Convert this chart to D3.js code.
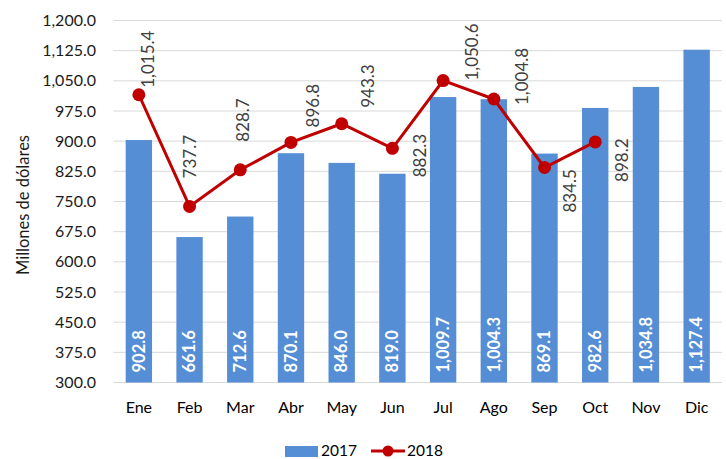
<!DOCTYPE html>
<html>
<head>
<meta charset="utf-8">
<script src="https://cdn.jsdelivr.net/npm/d3@7"></script>
<style>
  body { margin: 0; background: #fff; }
  svg { display: block; font-family: Lato, "Open Sans", sans-serif; }
</style>
</head>
<body>
<div id="chart"></div>
<script>
const months = ["Ene", "Feb", "Mar", "Abr", "May", "Jun", "Jul", "Ago", "Sep", "Oct", "Nov", "Dic"];
const values2017 = [902.8, 661.6, 712.6, 870.1, 846.0, 819.0, 1009.7, 1004.3, 869.1, 982.6, 1034.8, 1127.4];
const values2018 = [1015.4, 737.7, 828.7, 896.8, 943.3, 882.3, 1050.6, 1004.8, 834.5, 898.2];
const yTicks = [300, 375, 450, 525, 600, 675, 750, 825, 900, 975, 1050, 1125, 1200];

// label offsets for the 2018 values (dx, dy from the point), placed by hand like in Excel
const lineLabelOffsets = [[9, -7], [0, -28], [3, -28], [22, -15], [26, -16], [28, 29], [29, 0], [28, 6], [26, 45], [27, 40]];

const width = 726;
const height = 459;
const fmt = d3.format(",.1f");

const svg = d3.select("#chart")
    .append("svg")
    .attr("width", width)
    .attr("height", height);

const x = d3.scaleBand()
    .domain(months)
    .range([113.5, 722])
    .paddingInner(0.48)
    .paddingOuter(0.24);

const y = d3.scaleLinear()
    .domain([300, 1200])
    .range([382.5, 20.5]);

// gridlines + y labels
svg.append("g")
    .selectAll("line")
    .data(yTicks)
    .enter()
    .append("line")
    .attr("x1", 113.5)
    .attr("x2", 722)
    .attr("y1", d => y(d))
    .attr("y2", d => y(d))
    .attr("stroke", "#d9d9d9")
    .attr("stroke-width", 1);

svg.append("g")
    .selectAll("text")
    .data(yTicks)
    .enter()
    .append("text")
    .attr("x", 96)
    .attr("y", d => y(d))
    .attr("dy", "0.35em")
    .attr("text-anchor", "end")
    .attr("font-size", 16)
    .attr("fill", "#1a1a1a")
    .text(d => fmt(d));

svg.append("text")
    .attr("transform", `translate(23,205) rotate(-90)`)
    .attr("text-anchor", "middle")
    .attr("dy", "0.35em")
    .attr("font-size", 16.5)
    .attr("fill", "#1a1a1a")
    .text("Millones de dólares");

// bars
svg.append("g")
    .selectAll("rect")
    .data(values2017)
    .enter()
    .append("rect")
    .attr("x", (d, i) => x(months[i]))
    .attr("y", d => y(d))
    .attr("width", x.bandwidth())
    .attr("height", d => y(300) - y(d))
    .attr("fill", "#558ed5");

svg.append("g")
    .selectAll("text")
    .data(values2017)
    .enter()
    .append("text")
    .attr("transform", (d, i) => `translate(${x(months[i]) + x.bandwidth() / 2},${y(300) - 10}) rotate(-90)`)
    .attr("dy", "0.35em")
    .attr("font-size", 16.5)
    .attr("font-weight", "bold")
    .attr("fill", "#fff")
    .text(d => fmt(d));

// x labels
svg.append("g")
    .selectAll("text")
    .data(months)
    .enter()
    .append("text")
    .attr("x", d => x(d) + x.bandwidth() / 2)
    .attr("y", 407)
    .attr("dy", "0.35em")
    .attr("text-anchor", "middle")
    .attr("font-size", 16)
    .attr("fill", "#000")
    .text(d => d);

// 2018 line
const cx = (d, i) => x(months[i]) + x.bandwidth() / 2;

const line = d3.line()
    .x(cx)
    .y(d => y(d));

svg.append("path")
    .datum(values2018)
    .attr("d", line)
    .attr("fill", "none")
    .attr("stroke", "#c00000")
    .attr("stroke-width", 3);

svg.append("g")
    .selectAll("circle")
    .data(values2018)
    .enter()
    .append("circle")
    .attr("cx", cx)
    .attr("cy", d => y(d))
    .attr("r", 6.5)
    .attr("fill", "#c00000");

svg.append("g")
    .selectAll("text")
    .data(values2018)
    .enter()
    .append("text")
    .attr("transform", (d, i) => `translate(${cx(d, i) + lineLabelOffsets[i][0]},${y(d) + lineLabelOffsets[i][1]}) rotate(-90)`)
    .attr("dy", "0.35em")
    .attr("font-size", 17)
    .attr("fill", "#404040")
    .text(d => fmt(d));

// legend
const legend = svg.append("g");

legend.append("rect")
    .attr("x", 285)
    .attr("y", 446)
    .attr("width", 33)
    .attr("height", 11)
    .attr("fill", "#558ed5");

legend.append("text")
    .attr("x", 321)
    .attr("y", 450.5)
    .attr("dy", "0.35em")
    .attr("font-size", 15.5)
    .attr("fill", "#000")
    .text("2017");

legend.append("line")
    .attr("x1", 371)
    .attr("x2", 405)
    .attr("y1", 451)
    .attr("y2", 451)
    .attr("stroke", "#c00000")
    .attr("stroke-width", 3);

legend.append("circle")
    .attr("cx", 388)
    .attr("cy", 451)
    .attr("r", 5.5)
    .attr("fill", "#c00000");

legend.append("text")
    .attr("x", 407)
    .attr("y", 450.5)
    .attr("dy", "0.35em")
    .attr("font-size", 15.5)
    .attr("fill", "#000")
    .text("2018");
</script>
</body>
</html>
